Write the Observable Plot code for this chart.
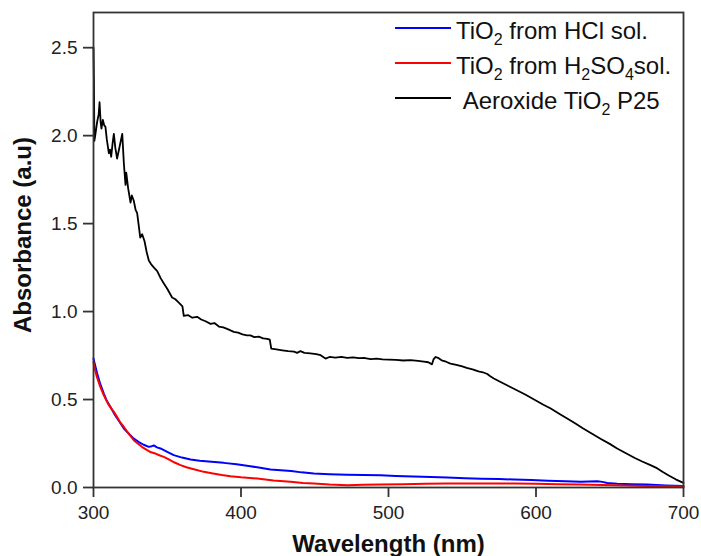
<!DOCTYPE html>
<html>
<head>
<meta charset="utf-8">
<script src="https://cdn.jsdelivr.net/npm/d3@7"></script>
<script src="https://cdn.jsdelivr.net/npm/@observablehq/plot@0.6"></script>
<style>
  body { margin: 0; background: #fff; }
  #wrap { position: relative; width: 701px; height: 556px; font-family: "Liberation Sans", Arial, sans-serif; }
  .lg-line { position: absolute; height: 2px; }
  .lg-text { position: absolute; font-size: 24px; line-height: 24px; color: #111; white-space: nowrap; }
  .lg-text sub { font-size: 16px; vertical-align: -6px; line-height: 0; }
</style>
</head>
<body>
<div id="wrap"></div>
<script>
// ---- data ----
const xTicks = [300, 400, 500, 600, 700];
const yTicks = [0, 0.5, 1.0, 1.5, 2.0, 2.5];
const xTitle = "Wavelength (nm)";
const yTitle = "Absorbance (a.u)";
const seriesNames = ["TiO2 from HCl sol.", "TiO2 from H2SO4sol.", "Aeroxide TiO2 P25"];
const seriesLabelsHtml = ["TiO<sub>2</sub> from HCl sol.", "TiO<sub>2</sub> from H<sub>2</sub>SO<sub>4</sub>sol.", "&nbsp;Aeroxide TiO<sub>2</sub> P25"];
const seriesColors = ["#0000ff", "#ff0000", "#000000"];

const hclWl  = [300,301.2,302.5,304.5,307,309,311.5,314,316.1,318.5,320.6,323.5,327.3,331,334,337.5,339.5,340.9,343,345.4,350,354.4,360,365.8,372,380,388.3,397,406.4,413,420,427,434,441,449.4,460,472,483,494.6,505,517,529,539.8,552,563,575,585,597,608,620,630.2,636,641.5,645,648.3,655,665,675.4,688,700];
const hclAbs = [0.733,0.69,0.648,0.59,0.534,0.493,0.458,0.42,0.392,0.362,0.335,0.31,0.278,0.257,0.243,0.231,0.235,0.239,0.228,0.222,0.202,0.184,0.170,0.159,0.152,0.146,0.14,0.132,0.121,0.112,0.102,0.098,0.094,0.086,0.079,0.075,0.072,0.071,0.07,0.066,0.062,0.059,0.057,0.053,0.05,0.048,0.045,0.042,0.038,0.035,0.032,0.034,0.036,0.032,0.026,0.022,0.019,0.017,0.012,0.009];

const h2so4Wl  = [300,301,302.3,304.5,307,310,312,313.8,316,318,320.6,323.5,325,327.3,330,333,336.4,339,342,345,347.7,351,355,359,363,368,374.8,381,387,392.9,400,411,422,433.6,442,449.4,460,472,483,494.6,510,525,539.8,555,570,585,600,615,630,645,660,675,688,700];
const h2so4Abs = [0.714,0.67,0.628,0.575,0.524,0.474,0.45,0.43,0.40,0.372,0.344,0.31,0.293,0.269,0.25,0.23,0.212,0.2,0.193,0.182,0.174,0.16,0.142,0.127,0.115,0.104,0.089,0.08,0.071,0.064,0.058,0.051,0.04,0.032,0.026,0.023,0.017,0.013,0.015,0.017,0.019,0.021,0.023,0.023,0.023,0.023,0.021,0.019,0.017,0.014,0.011,0.009,0.007,0.005];

const p25Wl  = [300,300.3,300.6,301.5,302.5,303.5,304.1,304.8,305.4,306.3,307.2,308.1,309,310.4,311.2,312,313,313.8,314.8,316,317.5,319.5,320.6,321.7,322.2,323.5,325.1,326,327.3,328.5,329.6,330.5,331.7,333,334.6,336,337.5,339,341,343.2,345.5,347.7,350,353.3,355.5,358,360.3,361.2,364,367,370.3,373,376,379.3,382,385,388,391,395.1,398,401,404,406.4,409,412,415,417.8,419.5,420.5,424,428,432,436,438,440.3,443,447,451,454,456,457.3,460,464,468,472,476,480,484,488,492,496,500,505,510,515,520,524,527,529.5,530.5,532,534,536,539,542,546,550,553,557,561,564,567,569,571.4,576,581,587,593,599,605,610,616,622,627,632,638,644,650,655,661,667,672,677.6,682,686,690,695,700];
const p25Abs = [2.50,2.30,1.97,2.02,2.08,2.12,2.19,2.08,2.04,2.09,2.06,2.05,1.98,1.90,1.92,1.88,1.96,2.01,1.93,1.87,1.93,2.01,1.84,1.72,1.79,1.70,1.62,1.66,1.63,1.58,1.56,1.50,1.42,1.44,1.40,1.34,1.29,1.27,1.25,1.23,1.19,1.16,1.13,1.08,1.07,1.05,1.03,0.975,0.98,0.965,0.97,0.955,0.945,0.93,0.935,0.915,0.91,0.90,0.885,0.88,0.87,0.865,0.865,0.855,0.858,0.848,0.845,0.84,0.79,0.785,0.78,0.775,0.772,0.765,0.775,0.765,0.762,0.758,0.752,0.74,0.733,0.742,0.738,0.742,0.737,0.740,0.735,0.736,0.73,0.732,0.728,0.727,0.726,0.722,0.724,0.72,0.716,0.712,0.70,0.728,0.742,0.735,0.723,0.715,0.704,0.697,0.688,0.68,0.672,0.66,0.655,0.645,0.632,0.62,0.60,0.578,0.553,0.527,0.499,0.47,0.449,0.418,0.388,0.362,0.335,0.305,0.276,0.248,0.222,0.195,0.168,0.148,0.127,0.11,0.088,0.068,0.045,0.026];

// ---- build tables ----
const toRows = (wl, ab) => wl.map((w, i) => ({wl: w, a: ab[i]}));
const hcl = toRows(hclWl, hclAbs);
const h2so4 = toRows(h2so4Wl, h2so4Abs);
const p25 = toRows(p25Wl, p25Abs);

const chart = Plot.plot({
  width: 701,
  height: 556,
  marginLeft: 93,
  marginRight: 18,
  marginTop: 12,
  marginBottom: 69,
  style: {fontFamily: "'Liberation Sans', Arial, sans-serif", fontSize: "19px", color: "#222", background: "white", overflow: "visible"},
  x: {domain: [300, 700]},
  y: {domain: [0, 2.7]},
  marks: [
    Plot.axisX({ticks: xTicks, tickSize: 10, tickPadding: 8, tickFormat: d => String(d), label: null, fontSize: 19, strokeWidth: 1.8, stroke: "#333"}),
    Plot.axisY({ticks: yTicks, tickSize: 10, tickPadding: 6, tickFormat: d3.format(".1f"), label: null, fontSize: 19, strokeWidth: 1.8, stroke: "#333"}),
    Plot.line(hcl, {x: "wl", y: "a", stroke: seriesColors[0], strokeWidth: 2}),
    Plot.line(h2so4, {x: "wl", y: "a", stroke: seriesColors[1], strokeWidth: 2}),
    Plot.line(p25, {x: "wl", y: "a", stroke: seriesColors[2], strokeWidth: 1.8}),
    Plot.frame({stroke: "#333", strokeWidth: 1.8}),
    Plot.text([xTitle], {frameAnchor: "bottom", lineAnchor: "middle", textAnchor: "middle", dy: 57, fontSize: 24, fontWeight: "bold", fill: "#111", text: d => d}),
    Plot.text([yTitle], {frameAnchor: "left", lineAnchor: "middle", textAnchor: "middle", rotate: -90, dx: -70, dy: -15, fontSize: 24, fontWeight: "bold", fill: "#111", text: d => d})
  ]
});

const wrap = document.getElementById("wrap");
wrap.appendChild(chart);

// ---- legend (HTML overlay for subscripts) ----
const lineY = [28, 63, 98];
seriesLabelsHtml.forEach((html, i) => {
  const ln = document.createElement("div");
  ln.className = "lg-line";
  ln.style.left = "395px";
  ln.style.width = "56px";
  ln.style.top = (lineY[i] - 1) + "px";
  ln.style.background = seriesColors[i];
  ln.title = seriesNames[i];
  wrap.appendChild(ln);
  const tx = document.createElement("div");
  tx.className = "lg-text";
  tx.style.left = "456px";
  tx.style.top = (lineY[i] + 11 - 20.3) + "px";
  tx.innerHTML = html;
  wrap.appendChild(tx);
});
</script>
</body>
</html>
